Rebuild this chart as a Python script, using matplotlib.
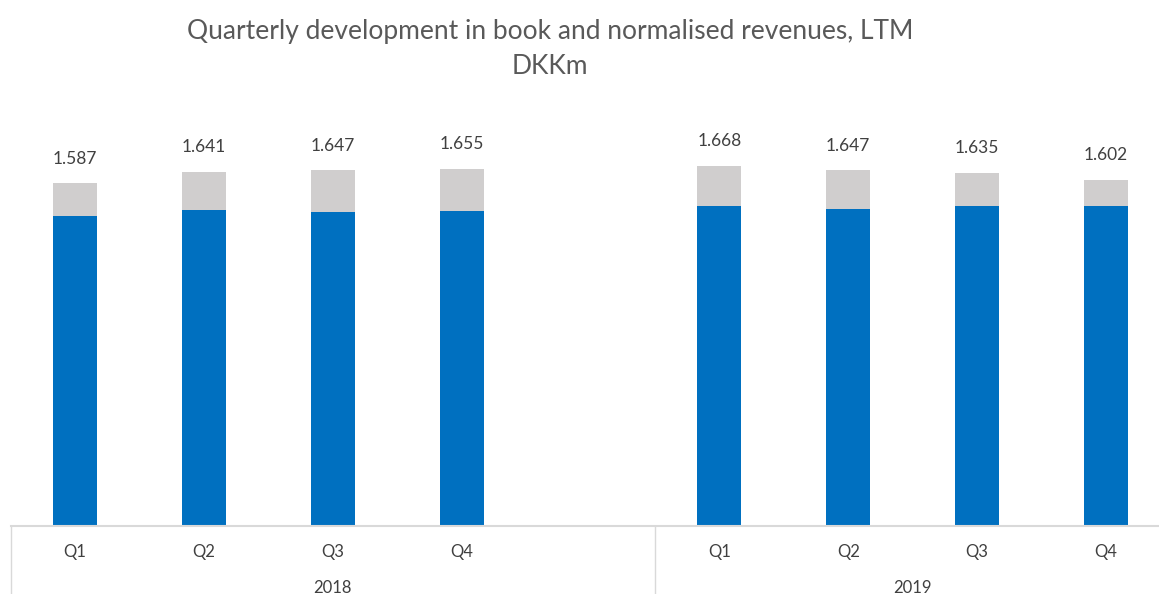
"""Quarterly development in book and normalised revenues, stacked bars."""

import matplotlib

matplotlib.use("Agg")
import matplotlib.pyplot as plt
import numpy as np

quarters = ["Q1", "Q2", "Q3", "Q4", "", "Q1", "Q2", "Q3", "Q4"]
years = ["2018", "2019"]
totals = [1587, 1641, 1647, 1655, np.nan, 1668, 1647, 1635, 1602]
normalised = [1436, 1464, 1455, 1459, np.nan, 1484, 1470, 1484, 1484]

BLUE = "#0070C0"
GREY = "#D0CECE"
TEXT = "#404040"
LINE = "#D9D9D9"

plt.rcParams["font.family"] = ["Lato", "DejaVu Sans"]

W, H = 1159, 594
fig = plt.figure(figsize=(W / 100, H / 100), dpi=100)
# axis spans beyond the right edge, as in the source
left_px, right_px, base_px = 10.5, 1170.5, 526
ymax = 2000
scale = 4.632  # DKKm per pixel
top_px = base_px - ymax / scale
ax = fig.add_axes([left_px / W, 1 - base_px / H,
                   (right_px - left_px) / W, (base_px - top_px) / H])

x = np.arange(len(quarters))
tot = np.array(totals, dtype=float)
norm = np.array(normalised, dtype=float)
ax.bar(x, norm, width=0.34, color=BLUE, zorder=2)
ax.bar(x, tot - norm, bottom=norm, width=0.34, color=GREY, zorder=2)

for xi, t in zip(x, tot):
    if np.isnan(t):
        continue
    ax.annotate(f"{t / 1000:.3f}", (xi, t), xytext=(0, 12),
                textcoords="offset points", ha="center", va="bottom",
                fontsize=12.5, color=TEXT)

ax.set_xlim(-0.5, len(quarters) - 0.5)
ax.set_ylim(0, ymax)
ax.set_xticks([])
ax.set_yticks([])
for side in ["top", "right", "left"]:
    ax.spines[side].set_visible(False)
ax.spines["bottom"].set_color(LINE)
ax.spines["bottom"].set_linewidth(1.5)

# two-level category axis
trans = ax.get_xaxis_transform()
px = 1 / (base_px - top_px)
for xi, q in zip(x, quarters):
    ax.text(xi, -26 * px, q, transform=trans, ha="center", va="center",
            fontsize=12, color=TEXT)
groups = [(-0.5, 4.5), (4.5, 8.5)]
for (g0, g1), yr in zip(groups, years):
    ax.text((g0 + g1) / 2, -62 * px, yr, transform=trans, ha="center",
            va="center", fontsize=12, color=TEXT)
    ax.plot([g0, g0], [0, -80 * px], transform=trans, color=LINE,
            lw=1, clip_on=False)

fig.text(550 / W, 1 - 31 / H, "Quarterly development in book and normalised revenues, LTM",
         ha="center", va="center", fontsize=19, color="#595959")
fig.text(550 / W, 1 - 66 / H, "DKKm", ha="center", va="center",
         fontsize=19, color="#595959")

fig.savefig("out.png", dpi=100, facecolor="white")
